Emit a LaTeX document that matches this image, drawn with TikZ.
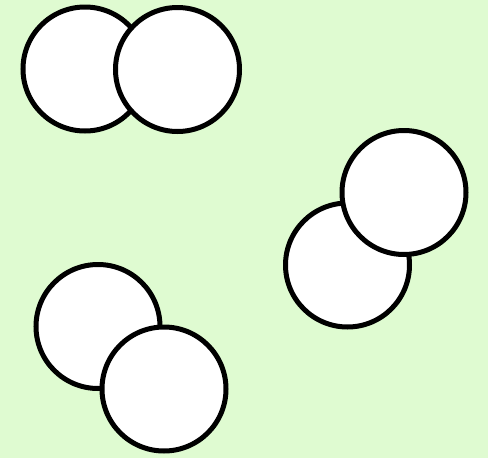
\documentclass[tikz,border=0pt]{standalone}
\usetikzlibrary{positioning}
\definecolor{mint}{HTML}{DFFBD1}
\definecolor{ink}{HTML}{000000}

\begin{document}
\begin{tikzpicture}[
  x=1pt, y=-1pt,
  disc/.style={
    circle, draw=ink, line width=5pt, fill=white,
    minimum size=124pt, inner sep=0pt
  },
]

% Background
\fill[mint] (0,0) rectangle (488,458);
\useasboundingbox (0,0) rectangle (488,458);

% =============================================
% Top-left pair
% =============================================
\node[disc] (topA) at (85,69) {};
\node[disc] (topB) at (177.5,69.5) {};

% =============================================
% Right pair
% =============================================
\node[disc] (rightA) at (347.5,265) {};
\node[disc] (rightB) at (404,192.5) {};

% =============================================
% Bottom-left pair
% =============================================
\node[disc] (lowA) at (98,326.5) {};
\node[disc] (lowB) at (164,389) {};

\end{tikzpicture}
\end{document}
